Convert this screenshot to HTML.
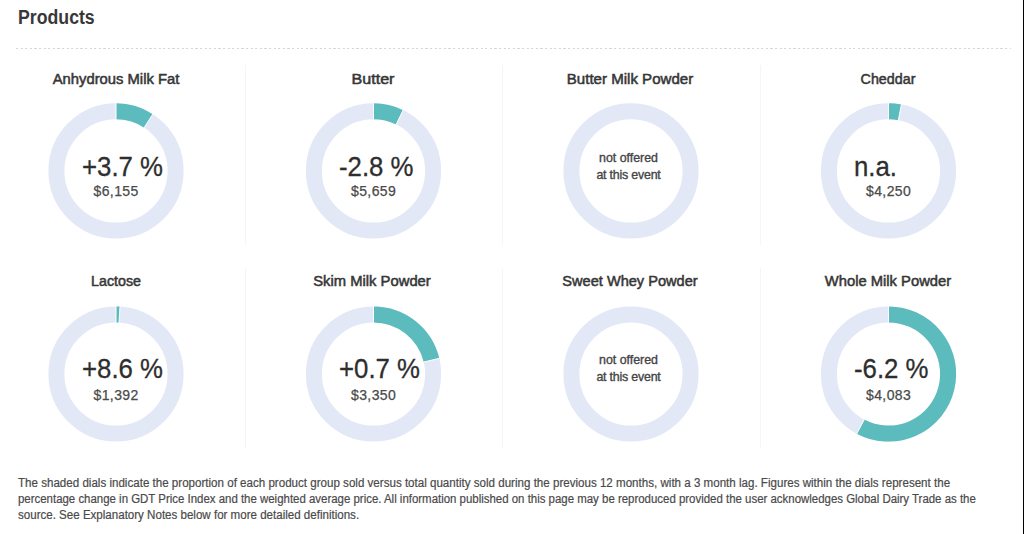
<!DOCTYPE html>
<html><head><meta charset="utf-8"><style>
html,body{margin:0;padding:0;background:#fff;}
body{width:1024px;height:534px;position:relative;overflow:hidden;font-family:"Liberation Sans",sans-serif;color:#333;}
.h{position:absolute;left:17.8px;top:6px;font-size:20px;font-weight:bold;color:#383838;transform-origin:0 0;transform:scaleX(0.885);white-space:nowrap}
.dots{position:absolute;left:16px;top:48px;width:995px;height:1px;background:repeating-linear-gradient(90deg,#d6d6d6 0,#d6d6d6 2.3px,transparent 2.3px,transparent 4.6px);}
.t{position:absolute;width:200px;text-align:center;font-size:14px;color:#363636;-webkit-text-stroke:0.5px #363636;white-space:nowrap;transform-origin:50% 50%}
.v{position:absolute;font-size:28.5px;color:#2e2e2e;white-space:nowrap;transform-origin:0 0;transform:scaleX(0.905);-webkit-text-stroke:0.3px #2e2e2e}
.p{position:absolute;font-size:14px;letter-spacing:0.4px;color:#4a4a4a;white-space:nowrap;-webkit-text-stroke:0.25px #4a4a4a}
.n{position:absolute;width:120px;text-align:center;font-size:12.4px;line-height:16.8px;color:#444;-webkit-text-stroke:0.35px #444}
.sep{position:absolute;width:1px;height:180px;background:#f5f5f5}
.f{position:absolute;left:18px;font-size:12px;color:#4a4a4a;-webkit-text-stroke:0.2px #4a4a4a;white-space:nowrap;transform-origin:0 0}
.edge{position:absolute;left:1023px;top:0;width:1px;height:534px;background:#000}
svg{position:absolute;left:0;top:0}
</style></head><body>
<div class="h">Products</div>
<div class="dots"></div>
<div class="sep" style="left:245px;top:65px"></div><div class="sep" style="left:245px;top:268px"></div><div class="sep" style="left:502px;top:65px"></div><div class="sep" style="left:502px;top:268px"></div><div class="sep" style="left:760px;top:65px"></div><div class="sep" style="left:760px;top:268px"></div>
<svg width="1024" height="534" viewBox="0 0 1024 534"><circle cx="116" cy="170.9" r="59.6" fill="none" stroke="#e2e8f6" stroke-width="16.0"/><path d="M116.00,111.30 A59.6,59.6 0 0 1 148.46,120.92" fill="none" stroke="#5cbbbc" stroke-width="16.0"/><line x1="116.00" y1="119.80" x2="116.00" y2="102.80" stroke="#fff" stroke-width="1"/><line x1="143.83" y1="128.04" x2="153.09" y2="113.79" stroke="#fff" stroke-width="1"/><circle cx="373.5" cy="170.9" r="59.6" fill="none" stroke="#e2e8f6" stroke-width="16.0"/><path d="M373.50,111.30 A59.6,59.6 0 0 1 399.63,117.33" fill="none" stroke="#5cbbbc" stroke-width="16.0"/><line x1="373.50" y1="119.80" x2="373.50" y2="102.80" stroke="#fff" stroke-width="1"/><line x1="395.90" y1="124.97" x2="403.35" y2="109.69" stroke="#fff" stroke-width="1"/><circle cx="631" cy="170.9" r="59.6" fill="none" stroke="#e2e8f6" stroke-width="16.0"/><circle cx="888.5" cy="170.9" r="59.6" fill="none" stroke="#e2e8f6" stroke-width="16.0"/><path d="M888.50,111.30 A59.6,59.6 0 0 1 899.87,112.40" fill="none" stroke="#5cbbbc" stroke-width="16.0"/><line x1="888.50" y1="119.80" x2="888.50" y2="102.80" stroke="#fff" stroke-width="1"/><line x1="898.25" y1="120.74" x2="901.49" y2="104.05" stroke="#fff" stroke-width="1"/><circle cx="116" cy="374.0" r="59.6" fill="none" stroke="#e2e8f6" stroke-width="16.0"/><path d="M116.00,314.40 A59.6,59.6 0 0 1 119.53,314.50" fill="none" stroke="#5cbbbc" stroke-width="16.0"/><line x1="116.00" y1="322.90" x2="116.00" y2="305.90" stroke="#fff" stroke-width="1"/><line x1="119.03" y1="322.99" x2="120.04" y2="306.02" stroke="#fff" stroke-width="1"/><circle cx="373.5" cy="374.0" r="59.6" fill="none" stroke="#e2e8f6" stroke-width="16.0"/><path d="M373.50,314.40 A59.6,59.6 0 0 1 431.48,360.19" fill="none" stroke="#5cbbbc" stroke-width="16.0"/><line x1="373.50" y1="322.90" x2="373.50" y2="305.90" stroke="#fff" stroke-width="1"/><line x1="423.21" y1="362.16" x2="439.75" y2="358.22" stroke="#fff" stroke-width="1"/><circle cx="631" cy="374.0" r="59.6" fill="none" stroke="#e2e8f6" stroke-width="16.0"/><circle cx="888.5" cy="374.0" r="59.6" fill="none" stroke="#e2e8f6" stroke-width="16.0"/><path d="M888.50,314.40 A59.6,59.6 0 1 1 860.52,426.62" fill="none" stroke="#5cbbbc" stroke-width="16.0"/><line x1="888.50" y1="322.90" x2="888.50" y2="305.90" stroke="#fff" stroke-width="1"/><line x1="864.51" y1="419.12" x2="856.53" y2="434.13" stroke="#fff" stroke-width="1"/></svg>
<div class="t" style="left:15.60px;top:70.6px;transform:scaleX(1.0567)">Anhydrous Milk Fat</div><div class="v" style="left:81.5px;top:149.9px">+3.7 %</div><div class="p" style="left:93.5px;top:183.4px">$6,155</div><div class="t" style="left:272.73px;top:70.6px;transform:scaleX(1.1500)">Butter</div><div class="v" style="left:339.0px;top:149.9px">-2.8 %</div><div class="p" style="left:351.0px;top:183.4px">$5,659</div><div class="t" style="left:529.86px;top:70.6px;transform:scaleX(1.0752)">Butter Milk Powder</div><div class="n" style="left:568.5px;top:149.9px">not offered<br><span style="letter-spacing:-0.2px">at this event</span></div><div class="t" style="left:787.94px;top:70.6px;transform:scaleX(1.0204)">Cheddar</div><div class="v" style="left:854.0px;top:149.9px">n.a.</div><div class="p" style="left:866.0px;top:183.4px">$4,250</div><div class="t" style="left:15.70px;top:273.3px;transform:scaleX(1.0167)">Lactose</div><div class="v" style="left:81.5px;top:352.4px">+8.6 %</div><div class="p" style="left:93.5px;top:386.5px">$1,392</div><div class="t" style="left:272.17px;top:273.3px;transform:scaleX(1.0564)">Skim Milk Powder</div><div class="v" style="left:339.0px;top:352.4px">+0.7 %</div><div class="p" style="left:351.0px;top:386.5px">$3,350</div><div class="t" style="left:530.13px;top:273.3px;transform:scaleX(1.0411)">Sweet Whey Powder</div><div class="n" style="left:568.5px;top:352.4px">not offered<br><span style="letter-spacing:-0.2px">at this event</span></div><div class="t" style="left:788.25px;top:273.3px;transform:scaleX(1.0537)">Whole Milk Powder</div><div class="v" style="left:854.0px;top:352.4px">-6.2 %</div><div class="p" style="left:866.0px;top:386.5px">$4,083</div>
<div class="f" style="top:475.5px;transform:scaleX(0.965)">The shaded dials indicate the proportion of each product group sold versus total quantity sold during the previous 12 months, with a 3 month lag. Figures within the dials represent the</div>
<div class="f" style="top:491.5px;transform:scaleX(0.953)">percentage change in GDT Price Index and the weighted average price. All information published on this page may be reproduced provided the user acknowledges Global Dairy Trade as the</div>
<div class="f" style="top:507.5px;transform:scaleX(0.963)">source. See Explanatory Notes below for more detailed definitions.</div>
<div class="edge"></div>
</body></html>
